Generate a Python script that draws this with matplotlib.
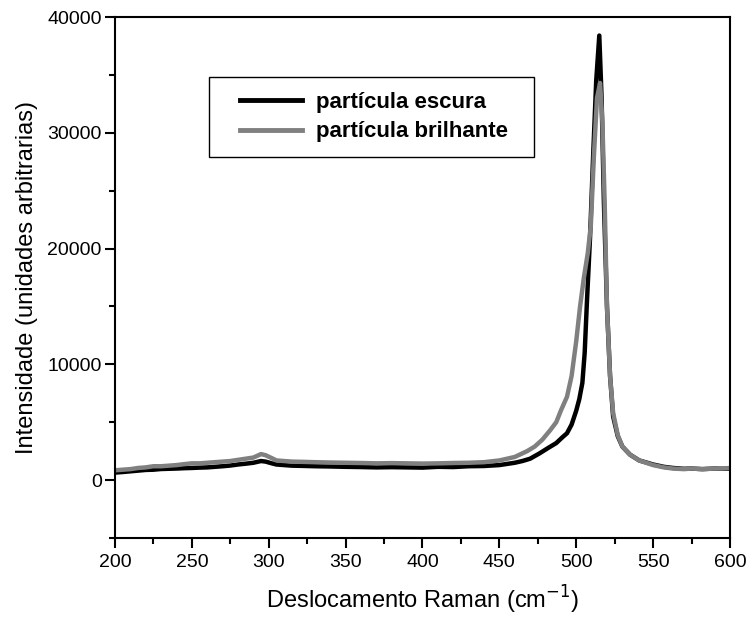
import matplotlib
matplotlib.use("Agg")
import matplotlib.pyplot as plt
from matplotlib.ticker import MultipleLocator
from matplotlib.patches import Rectangle

plt.rcParams['font.family'] = ['Liberation Sans', 'DejaVu Sans']

# partícula escura (black)
x_escura = [200, 205, 210, 215, 220, 225, 230, 235, 240, 245, 250, 255, 260, 265, 270, 275, 280, 285, 290, 295, 298,
            302, 305, 310, 315, 322, 330, 340, 350, 360, 370, 380, 390, 400, 410, 420, 430, 440, 450, 455, 460, 465,
            470, 476, 482, 487, 491, 494, 497, 500, 502, 504, 505.5, 507, 509, 511, 513, 515, 516.5, 518, 520, 522,
            524, 527, 530, 535, 541, 550, 557, 563, 570, 575, 582, 590, 595, 600]
y_escura = [650, 700, 760, 820, 880, 900, 960, 980, 1000, 1030, 1050, 1080, 1100, 1150, 1200, 1260, 1350, 1420, 1500, 1650, 1600,
            1450, 1350, 1300, 1250, 1230, 1200, 1180, 1150, 1130, 1100, 1120, 1100, 1080, 1150, 1130, 1200, 1220, 1300, 1400, 1500, 1650,
            1850, 2300, 2800, 3200, 3700, 4050, 4800, 6000, 7000, 8400, 11000, 15500, 21000, 28000, 34500, 38400, 33000, 24000, 15000, 9000,
            5500, 3800, 2900, 2200, 1700, 1350, 1150, 1050, 980, 1000, 950, 1000, 980, 1000]

# partícula brilhante (gray)
x_brilhante = [200, 205, 210, 215, 220, 225, 230, 235, 240, 245, 250, 255, 260, 265, 270, 275, 280, 285, 290, 295, 298,
               302, 305, 310, 315, 322, 330, 340, 350, 360, 370, 380, 390, 400, 410, 420, 430, 440, 450, 455, 460, 468,
               473, 478, 483, 487, 490, 494, 497, 500, 502.5, 505, 507.5, 509.5, 511.5, 513.5, 515.5, 517, 518.5, 520, 522,
               524, 527, 530, 535, 541, 550, 557, 563, 570, 575, 582, 590, 595, 600]
y_brilhante = [850, 900, 950, 1050, 1100, 1200, 1200, 1250, 1300, 1380, 1450, 1450, 1500, 1550, 1600, 1650, 1750, 1850, 1950, 2250, 2150,
               1900, 1700, 1650, 1600, 1580, 1550, 1520, 1500, 1480, 1450, 1470, 1450, 1430, 1450, 1480, 1500, 1550, 1700, 1850, 2000, 2500,
               2900, 3500, 4300, 5000, 6000, 7200, 9000, 12000, 15000, 17500, 19600, 22000, 28000, 33000, 34300, 31000, 24000, 15000, 9000,
               5800, 3900, 2900, 2200, 1700, 1300, 1100, 1000, 950, 1000, 950, 1000, 1000, 1050]

labels = ['partícula escura', 'partícula brilhante']

fig = plt.figure(figsize=(7.49, 6.23), dpi=100)
ax = fig.add_axes([0.1535, 0.1364, 0.8211, 0.8363])

ax.plot(x_escura, y_escura, color='black', lw=3.2, label=labels[0], solid_joinstyle='round')
ax.plot(x_brilhante, y_brilhante, color='#808080', lw=3.2, label=labels[1], solid_joinstyle='round')

ax.set_xlim(200, 600)
ax.set_ylim(-5000, 40000)
ax.xaxis.set_major_locator(MultipleLocator(50))
ax.xaxis.set_minor_locator(MultipleLocator(25))
ax.set_yticks([0, 10000, 20000, 30000, 40000])
ax.yaxis.set_minor_locator(MultipleLocator(5000))
ax.tick_params(which='major', direction='out', length=7.5, width=1.5, labelsize=14)
ax.tick_params(which='minor', direction='out', length=4, width=1.5)
ax.tick_params(axis='x', which='major', pad=4)
ax.tick_params(axis='y', which='major', pad=2)
for s in ax.spines.values():
    s.set_linewidth(1.5)

ax.set_xlabel('Deslocamento Raman (cm$^{-1}$)', fontsize=17, labelpad=9)
ax.set_ylabel('Intensidade (unidades arbitrarias)', fontsize=17, labelpad=7)

# legend frame drawn explicitly
ax.add_patch(Rectangle((0.1528, 0.7313), 0.5285, 0.1536, transform=ax.transAxes,
                       fill=False, edgecolor='black', lw=1.0, zorder=5))
leg = ax.legend(loc='center left', bbox_to_anchor=(0.2033, 0.808), frameon=False,
                handlelength=2.8, handletextpad=0.6, borderpad=0, borderaxespad=0,
                prop={'weight': 'bold', 'size': 16}, labelspacing=0.4)
for line in leg.get_lines():
    line.set_linewidth(3.5)

fig.savefig('out.png', dpi=100)
